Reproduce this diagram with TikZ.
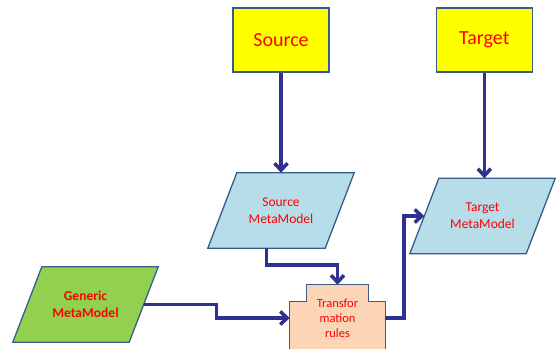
\documentclass[tikz,border=0pt]{standalone}
\usepackage{fontspec}
\setmainfont{Carlito}
\usetikzlibrary{arrows.meta,positioning,calc,backgrounds}
\definecolor{edgeBlue}{HTML}{385D8A}
\definecolor{flowNavy}{HTML}{2E3192}
\definecolor{boxYellow}{HTML}{FFFF00}
\definecolor{metaBlue}{HTML}{B7DDE8}
\definecolor{genGreen}{HTML}{92D050}
\definecolor{rulePeach}{HTML}{FBD5B5}
\definecolor{labelRed}{HTML}{FF0000}

\begin{document}
\begin{tikzpicture}[x=1pt, y=-1pt,
  outline/.style={draw=edgeBlue, line width=1.3pt},
  endbox/.style={outline, fill=boxYellow, text=labelRed, minimum width=96pt, minimum height=64pt, font=\fontsize{20}{24}\selectfont},
  meta/.style={minimum width=117pt, minimum height=75pt, inner sep=0pt, text=labelRed, align=center, font=\fontsize{13.5}{17}\selectfont},
  rulebox/.style={minimum width=95pt, minimum height=66pt, inner sep=0pt, text=labelRed, align=center, font=\fontsize{12.5}{15}\selectfont},
  arrow/.style={-{Straight Barb[length=7pt,width=13pt]}, line width=3.5pt, draw=flowNavy}
]
\useasboundingbox (0,0) rectangle (556,348);
\node[endbox] (src) at (281,40) {Source};
\node[endbox, right=106pt of src] (tgt) {Target};
\node[meta] (smm) at (281,210.5) {Source\\MetaModel};
\node[meta, minimum width=116pt] (tmm) at (482.5,216) {Target\\MetaModel};
\node[meta, minimum width=116pt, font=\fontsize{13.5}{17}\selectfont\bfseries] (gmm) at (85.5,304.5) {Generic\\MetaModel};
\node[rulebox] (rules) at (337.5,318) {Transfor\\mation\\rules};
% slanted boxes and plus shape behind the texts
\begin{scope}[on background layer]
\foreach \n/\c in {smm/metaBlue, tmm/metaBlue, gmm/genGreen}
  \draw[outline, fill=\c] ($(\n.north west)+(14.5,0)$) -- ($(\n.north east)+(14.5,0)$)
    -- ($(\n.south east)+(-14.5,0)$) -- ($(\n.south west)+(-14.5,0)$) -- cycle;
\draw[outline, fill=rulePeach]
  ($(rules.north west)+(17,0)$) -- ($(rules.north east)+(-17,0)$) -- ($(rules.north east)+(-17,17)$)
  -- ($(rules.north east)+(0,17)$) -- (rules.south east) -- ($(rules.south east)+(-17,0)$)
  -- ($(rules.south east)+(-17,17)$) -- ($(rules.south west)+(17,17)$) -- ($(rules.south west)+(17,0)$)
  -- (rules.south west) -- ($(rules.north west)+(0,17)$) -- ($(rules.north west)+(17,17)$) -- cycle;
\end{scope}
\coordinate (smmb) at ($(smm.south)+(-14.5,0)$);
\draw[arrow] (src.south) -- (src.south |- smm.north);
\draw[arrow] (tgt.south) -- (tgt.south |- tmm.north);
\draw[arrow] (smmb) -- ++(0,17) -| (rules.north);
\draw[arrow] (gmm.east) -- ++(73,0) |- (rules.west);
\draw[arrow] (rules.east) -- ++(19,0) |- (tmm.west);
\end{tikzpicture}
\end{document}
